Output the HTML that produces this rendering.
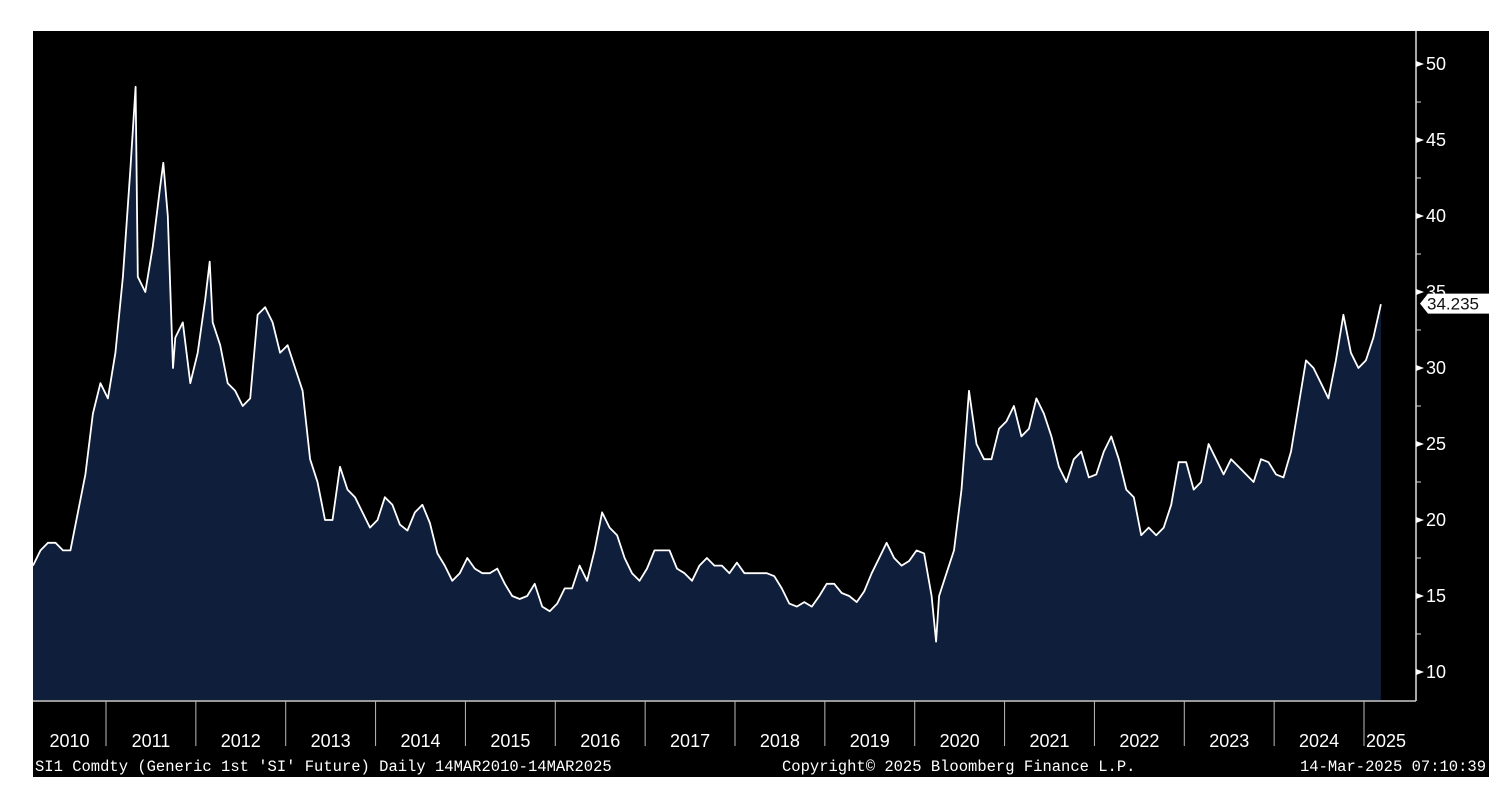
<!DOCTYPE html>
<html><head><meta charset="utf-8"><style>
body{margin:0;background:#fff;width:1508px;height:802px;overflow:hidden;font-family:"Liberation Sans",sans-serif}
svg{position:absolute;left:0;top:0}
</style></head><body>
<svg id="chart" width="1508" height="802" xmlns="http://www.w3.org/2000/svg">
<rect x="33" y="31" width="1456" height="746" fill="#000"/>
<g id="plot"></g>
<g id="axes"></g>
</svg>
<script>
const months = [0,1,2,3,4,5,6,7,8,9,
10,11,12,13,13.7,14,15,16,17,17.4,18,18.7,19,20,21,
22,23,23.6,24,25,26,27,28,29,30,31,32,33,
34,35,36,37,38,39,40,41,42,43,44,45,
46,47,48,49,50,51,52,53,54,55,56,57,
58,59,60,61,62,63,64,65,66,67,68,69,
70,71,72,73,74,75,76,77,78,79,80,81,
82,83,84,85,86,87,88,89,90,91,92,93,
94,95,96,97,98,99,100,101,102,103,104,105,
106,107,108,109,110,111,112,113,114,115,116,117,
118,119,120,120.6,121,122,123,124,125,126,127,128,129,
130,131,132,133,134,135,136,137,138,139,140,141,
142,143,144,145,146,147,148,149,150,151,152,153,
154,155,156,157,158,159,160,161,162,163,164,165,
166,167,168,169,170,171,172,173,174,175,176,177,
178,179,180];
const prices = [17,18,18.5,18.5,18,18,20.5,23,27,29,
28,31,36,43,48.5,36,35,38,42,43.5,40,30,32,33,29,
31,34.5,37,33,31.5,29,28.5,27.5,28,33.5,34,33,31,
31.5,30,28.5,24,22.5,20,20,23.5,22,21.5,20.5,19.5,
20,21.5,21,19.7,19.3,20.5,21,19.8,17.8,17,16,16.5,
17.5,16.8,16.5,16.5,16.8,15.8,15,14.8,15,15.8,14.3,14,
14.5,15.5,15.5,17,16,18,20.5,19.5,19,17.5,16.5,16,
16.8,18,18,18,16.8,16.5,16,17,17.5,17,17,16.5,
17.2,16.5,16.5,16.5,16.5,16.3,15.5,14.5,14.3,14.6,14.3,15,
15.8,15.8,15.2,15,14.6,15.3,16.5,17.5,18.5,17.5,17,17.3,
18,17.8,15,12,15,16.5,18,22,28.5,25,24,24,26,
26.5,27.5,25.5,26,28,27,25.5,23.5,22.5,24,24.5,22.8,
23,24.5,25.5,24,22,21.5,19,19.5,19,19.5,21,23.8,
23.8,22,22.5,25,24,23,24,23.5,23,22.5,24,23.8,
23,22.8,24.5,27.5,30.5,30,29,28,30.5,33.5,31,30,
30.5,32,34.2];
const yTicks = [10,15,20,25,30,35,40,45,50];
const years = ["2010","2011","2012","2013","2014","2015","2016","2017","2018","2019","2020","2021","2022","2023","2024","2025"];
const lastLabel = "34.235";

const NS="http://www.w3.org/2000/svg";
const x0=33, pxPerMonth=(1364-106)/(14*12), yearStart=106;
const X=m=>x0+m*pxPerMonth;
const Y=v=>672-(v-10)*15.2;
const bottom=700;
function mk(tag,attrs,parent){const e=document.createElementNS(NS,tag);for(const k in attrs)e.setAttribute(k,attrs[k]);parent.appendChild(e);return e;}
const plot=document.getElementById('plot'), axes=document.getElementById('axes');

let line='';
months.forEach((m,i)=>{line+=(i?'L':'M')+X(m).toFixed(1)+','+Y(prices[i]).toFixed(1);});
const area=mk('path',{d:line+'L'+X(months[months.length-1]).toFixed(1)+','+bottom+'L'+X(months[0])+','+bottom+'Z',fill:'#0f1e3a'},plot);


const pl=mk('path',{d:line,fill:'none',stroke:'#fff','stroke-width':1.8,'stroke-linejoin':'round'},plot);



const ax=mk('line',{x1:1416,y1:31,x2:1416,y2:701,stroke:'#ddd','stroke-width':1.5},axes);


yTicks.forEach(v=>{
  const y=Y(v);
  mk('polygon',{points:`1416,${y-3} 1424,${y} 1416,${y+3}`,fill:'#fff'},axes);
  const mid=Y(v+2.5);
  if(v<50) mk('line',{x1:1416,y1:mid,x2:1421,y2:mid,stroke:'#ddd'},axes);
  const t=mk('text',{x:1426,y:y+6,fill:'#fff','font-size':18},axes);
  t.textContent=v;
  
  
});
const ly=Y(34.235);
const tag=mk('polygon',{points:`1420,${ly} 1428,${ly-10} 1490,${ly-10} 1490,${ly+10} 1428,${ly+10}`,fill:'#fff'},axes);


const lt=mk('text',{x:1427,y:ly+6,fill:'#111','font-size':17},axes);
lt.textContent=lastLabel;



const xl=mk('line',{x1:33,y1:701,x2:1416,y2:701,stroke:'#ccc','stroke-width':1.5},axes);


years.forEach((yr,i)=>{
  let left, right;
  if(i===0){left=x0;right=yearStart;}
  else{left=yearStart+(i-1)*12*pxPerMonth;right=left+12*pxPerMonth;}
  if(i>0) mk('line',{x1:left,y1:701,x2:left,y2:746,stroke:'#bbb'},axes);
  let cx=(left+right)/2;
  if(i===years.length-1) cx=left+22;
  const t=mk('text',{x:cx,y:747,fill:'#fff','font-size':18,'text-anchor':'middle'},axes);
  t.textContent=yr;
  
  
});
const f1=mk('text',{x:35,y:771,fill:'#fff','font-size':15.5,'font-family':'Liberation Mono, monospace'},axes);
f1.textContent="SI1 Comdty (Generic 1st 'SI' Future)  Daily 14MAR2010-14MAR2025";


const f2=mk('text',{x:782,y:771,fill:'#fff','font-size':15.5,'font-family':'Liberation Mono, monospace'},axes);
f2.textContent="Copyright© 2025 Bloomberg Finance L.P.";


const f3=mk('text',{x:1486,y:771,fill:'#fff','font-size':15.5,'font-family':'Liberation Mono, monospace','text-anchor':'end'},axes);
f3.textContent="14-Mar-2025 07:10:39";


</script>
</body></html>
